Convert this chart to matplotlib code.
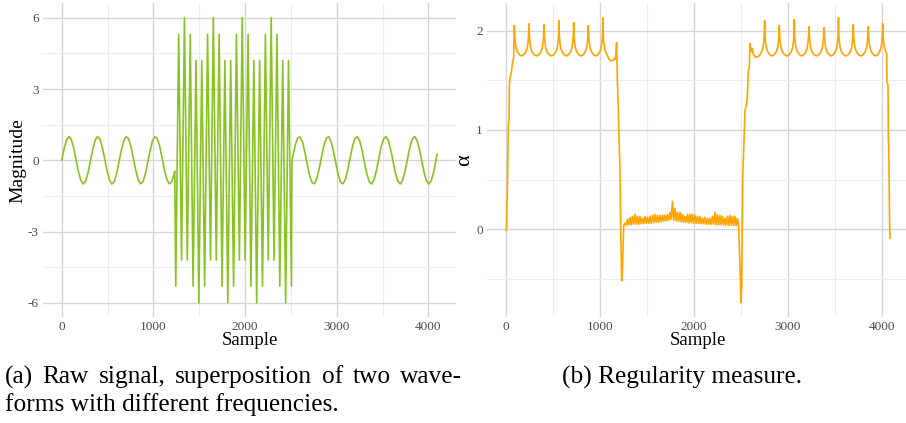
import numpy as np
import matplotlib
matplotlib.use("Agg")
import matplotlib.pyplot as plt

plt.rcParams['font.family'] = ['Liberation Serif', 'DejaVu Serif']
plt.rcParams['axes.unicode_minus'] = False

# ---- (a) raw signal -------------------------------------------------------
# slow sine before the burst, one sample every 26 (last one at 1232)
sine_left = [0.00, 0.50, 0.86, 1.00, 0.87, 0.51, 0.02, -0.48, -0.85, -1.00, -0.88, -0.53,
             -0.04, 0.46, 0.84, 1.00, 0.89, 0.55, 0.06, -0.44, -0.83, -1.00, -0.90, -0.57,
             -0.08, 0.43, 0.82, 1.00, 0.91, 0.58, 0.10, -0.41, -0.81, -0.99, -0.92, -0.60,
             -0.12, 0.39, 0.80, 0.99, 0.93, 0.61, 0.14, -0.37, -0.78, -0.99, -0.93, -0.63,
             -0.46]
sine_left_x = list(range(0, 1223, 26)) + [1232]

# fast burst, turning points only
burst_x = [1243, 1275, 1306, 1338, 1369, 1401, 1432, 1464, 1495, 1527, 1558, 1590, 1622, 1653,
           1685, 1716, 1748, 1779, 1811, 1842, 1874, 1905, 1937, 1968, 2000, 2032, 2063, 2095,
           2126, 2158, 2189, 2221, 2252, 2284, 2315, 2347, 2378, 2410, 2442, 2473, 2505]
burst = [-5.3, 5.3, -4.2, 6.0, -4.2, 5.3, -5.3, 4.2, -6.0, 4.2,
         -5.3, 5.3, -4.2, 6.0, -4.2, 5.3, -5.3, 4.2, -6.0, 4.2,
         -5.3, 5.3, -4.2, 6.0, -4.2, 5.3, -5.3, 4.2, -6.0, 4.2,
         -5.3, 5.3, -4.2, 6.0, -4.2, 5.3, -5.3, 4.2, -6.0, 4.2,
         -5.3]

# slow sine after the burst
sine_right = [-0.04,
              0.20, 0.66, 0.95, 0.98, 0.76, 0.33, -0.18, -0.65, -0.94, -0.99, -0.77, -0.35,
              0.16, 0.63, 0.93, 0.99, 0.78, 0.37, -0.14, -0.61, -0.93, -0.99, -0.80, -0.39,
              0.12, 0.60, 0.92, 0.99, 0.81, 0.41, -0.10, -0.58, -0.91, -1.00, -0.82, -0.43,
              0.08, 0.57, 0.90, 1.00, 0.83, 0.44, -0.06, -0.55, -0.89, -1.00, -0.84, -0.46,
              0.04, 0.53, 0.88, 1.00, 0.85, 0.48, -0.02, -0.51, -0.87, -1.00, -0.86, -0.50,
              0.00, 0.26]
sine_right_x = [2510] + list(range(2522, 4083, 26)) + [4095]

# ---- (b) regularity measure ----------------------------------------------
alpha_rise_x = [0, 7, 10, 14, 25, 33, 36, 43, 60, 71, 82]
alpha_rise = [-0.01, 0.02, 0.29, 0.31, 1.05, 1.10, 1.45, 1.52, 1.60, 1.68, 1.73]

peaks_left_x = [89, 245, 405, 564, 721, 877, 1032]
peaks_left = [2.05, 2.07, 2.06, 2.10, 2.08, 2.05, 2.13]

# shape of one scallop between two cusps
scallop_off = [3, 8, 18, 32, 53]
scallop_drop = [1.97, 1.90, 1.83, 1.79, 1.76]
scallop_floor = 1.745

tail_left_x = [1035, 1040, 1050, 1064, 1085, 1100, 1110, 1140, 1150, 1162, 1170, 1178,
               1186, 1196, 1207, 1214, 1221, 1232, 1240]
tail_left = [1.98, 1.90, 1.82, 1.78, 1.74, 1.71, 1.70, 1.70, 1.72, 1.71, 1.76, 1.88,
             1.50, 1.20, 0.80, 0.61, 0.03, -0.52, -0.40]

# jagged plateau under the burst
mid_low = [0.04, 0.04, 0.045, 0.045, 0.05, 0.05, 0.05, 0.055, 0.055, 0.06,
           0.06, 0.06, 0.065, 0.07, 0.07, 0.075, 0.08, 0.085, 0.09, 0.10,
           0.09, 0.085, 0.08, 0.075, 0.07, 0.07, 0.065, 0.065, 0.06, 0.06,
           0.06, 0.055, 0.055, 0.05, 0.05, 0.05, 0.05, 0.045, 0.045, 0.045,
           0.04, 0.04, 0.04, 0.04, 0.035, 0.035, 0.035]
mid_high = [0.06, 0.10, 0.12, 0.13, 0.15, 0.13, 0.13, 0.11, 0.13, 0.12,
            0.13, 0.14, 0.15, 0.14, 0.14, 0.14, 0.14, 0.15, 0.17, 0.28,
            0.21, 0.17, 0.17, 0.15, 0.13, 0.15, 0.15, 0.15, 0.14, 0.13,
            0.13, 0.11, 0.12, 0.11, 0.11, 0.13, 0.17, 0.15, 0.14, 0.13,
            0.11, 0.13, 0.14, 0.13, 0.13, 0.11]

rise_right_x = [2492, 2502, 2510, 2520, 2534, 2545, 2556, 2570, 2580, 2591, 2598, 2612,
                2623, 2634, 2662, 2700, 2722, 2736, 2746, 2751]
rise_right = [-0.38, -0.74, -0.58, 0.50, 0.90, 1.20, 1.23, 1.33, 1.60, 1.63, 1.87, 1.79,
              1.82, 1.76, 1.73, 1.75, 1.79, 1.83, 1.90, 1.97]

peaks_right_x = [2754, 2910, 3070, 3226, 3386, 3540, 3698, 3857, 4011]
peaks_right = [2.10, 2.05, 2.11, 2.04, 2.03, 2.13, 2.06, 2.04, 2.07]

tail_right_x = [4014, 4019, 4029, 4043, 4053, 4056, 4068, 4071, 4076, 4084, 4089]
tail_right = [1.97, 1.90, 1.83, 1.79, 1.77, 1.48, 1.45, 0.93, 0.80, 0.09, -0.09]


def scallop_run(peak_x, peak_a):
    xs, ys = [], []
    for i, (x0, a0) in enumerate(zip(peak_x, peak_a)):
        xs.append(x0)
        ys.append(a0)
        if i + 1 < len(peak_x):
            x1 = peak_x[i + 1]
            xs += [x0 + d for d in scallop_off] + [(x0 + x1) / 2] + [x1 - d for d in scallop_off[::-1]]
            ys += scallop_drop + [scallop_floor] + scallop_drop[::-1]
    return xs, ys


raw_x = sine_left_x + burst_x + sine_right_x
raw_y = sine_left + burst + sine_right

low_x = np.linspace(1254, 2477, len(mid_low))
high_x = (low_x[:-1] + low_x[1:]) / 2
mid_x, mid_y = [], []
for i in range(len(mid_high)):
    mid_x += [low_x[i], high_x[i]]
    mid_y += [mid_low[i], mid_high[i]]
mid_x.append(low_x[-1])
mid_y.append(mid_low[-1])

sl_x, sl_y = scallop_run(peaks_left_x, peaks_left)
sr_x, sr_y = scallop_run(peaks_right_x, peaks_right)
alpha_x = alpha_rise_x + sl_x + tail_left_x + mid_x + rise_right_x + sr_x + tail_right_x
alpha_y = alpha_rise + sl_y + tail_left + mid_y + rise_right + sr_y + tail_right


def style(ax, xlim, ylim, yticks, yminor, ylabels):
    ax.set_xlim(*xlim)
    ax.set_ylim(*ylim)
    ax.set_xticks([0, 1000, 2000, 3000, 4000])
    ax.set_xticks([500, 1500, 2500, 3500], minor=True)
    ax.set_yticks(yticks)
    ax.set_yticklabels(ylabels)
    ax.set_yticks(yminor, minor=True)
    ax.grid(which='major', color='#d6d6d6', lw=1.0)
    ax.grid(which='minor', color='#ededed', lw=0.8)
    ax.set_axisbelow(True)
    for s in ax.spines.values():
        s.set_visible(False)
    ax.tick_params(which='both', length=0, labelsize=9.5, labelcolor='#4d4d4d', pad=3)
    ax.set_xlabel('Sample', fontsize=13.5, labelpad=-1)


fig = plt.figure(figsize=(9.06, 4.23), dpi=100)
ax1 = fig.add_axes([43 / 906, 106 / 423, 413 / 906, 313.5 / 423])
ax2 = fig.add_axes([486.8 / 906, 106 / 423, 422.4 / 906, 313.5 / 423])

ax1.plot(raw_x, raw_y, color='#88c322', lw=1.2)
style(ax1, (-205, 4300), (-6.6, 6.6), [-6, -3, 0, 3, 6], [-4.5, -1.5, 1.5, 4.5],
      ['-6', '-3', '0', '3', '6'])
ax1.set_ylabel('Magnitude', fontsize=14, labelpad=1)

ax2.plot(alpha_x, alpha_y, color='#ffa500', lw=1.2)
style(ax2, (-204, 4293), (-0.884, 2.274), [0, 1, 2], [-0.5, 0.5, 1.5], ['0', '1', '2'])
ax2.set_ylabel('α', fontsize=16, labelpad=1)

# captions; the first line is set justified across the left column
cap_size = 18.3
renderer = fig.canvas.get_renderer()
words = '(a) Raw signal, superposition of two wave-'.split()
arts = [fig.text(0, 1 - 377 / 423, w, fontsize=cap_size, va='center', ha='left') for w in words]
widths = [a.get_window_extent(renderer).width for a in arts]
gap = (462 - 5 - sum(widths)) / (len(words) - 1)
xpos = 5
for a, w in zip(arts, widths):
    a.set_x(xpos / 906)
    xpos += w + gap
fig.text(5 / 906, 1 - 405 / 423, 'forms with different frequencies.',
         fontsize=cap_size, va='center', ha='left')
fig.text(562 / 906, 1 - 377 / 423, '(b) Regularity measure.',
         fontsize=cap_size, va='center', ha='left')

fig.savefig('out.png', dpi=100)
